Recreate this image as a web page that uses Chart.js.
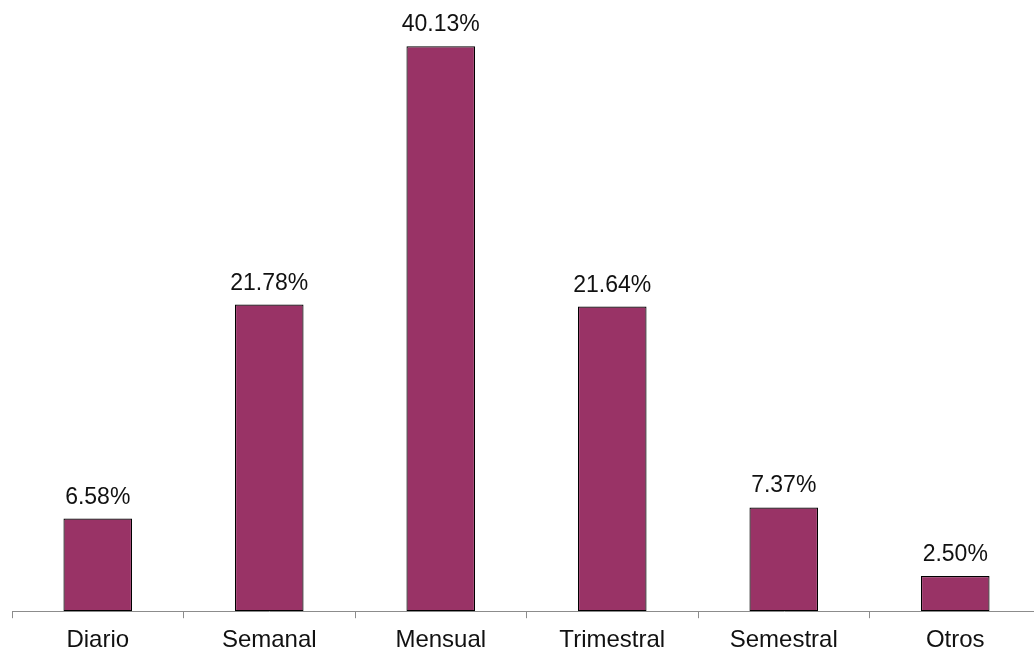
<!DOCTYPE html>
<html>
<head>
<meta charset="utf-8">
<script src="https://cdn.jsdelivr.net/npm/chart.js@4/dist/chart.umd.min.js"></script>
<style>
  html, body { margin: 0; padding: 0; background: #fff; overflow: hidden; }
  #wrap { width: 1041px; height: 663px; position: relative; }
</style>
</head>
<body>
<div id="wrap"><canvas id="chart"></canvas></div>
<script>
const categories = ["Diario", "Semanal", "Mensual", "Trimestral", "Semestral", "Otros"];
const percentages = [6.58, 21.78, 40.13, 21.64, 7.37, 2.50];

const fontFamily = '"Liberation Sans", Arial, sans-serif';

// etiquetas de valor encima de cada barra
const valueLabels = {
  id: "valueLabels",
  afterDatasetsDraw(chart) {
    const ctx = chart.ctx;
    const meta = chart.getDatasetMeta(0);
    ctx.save();
    ctx.font = `23px ${fontFamily}`;
    ctx.fillStyle = "#111";
    ctx.textAlign = "center";
    ctx.textBaseline = "alphabetic";
    meta.data.forEach((bar, i) => {
      ctx.fillText(percentages[i].toFixed(2) + "%", bar.x, bar.y - 15);
    });
    ctx.restore();
  }
};

new Chart(document.querySelector("#chart"), {
  type: "bar",
  data: {
    labels: categories,
    datasets: [{
      data: percentages,
      backgroundColor: "#993366",
      borderColor: "#000",
      borderWidth: 1.2,
      borderSkipped: false,
      categoryPercentage: 1,
      barPercentage: 0.4
    }]
  },
  options: {
    responsive: true,
    maintainAspectRatio: false,
    animation: false,
    layout: { padding: { left: 12, top: 20, right: 0, bottom: 0 } },
    scales: {
      x: {
        grid: {
          display: true,
          drawOnChartArea: false,
          drawTicks: true,
          tickLength: 7,
          color: "#8c8c8c",
          offset: true
        },
        border: { display: true, color: "#8c8c8c", width: 1 },
        ticks: {
          color: "#111",
          padding: 8,
          font: { family: fontFamily, size: 24 }
        }
      },
      y: {
        display: false,
        min: 0,
        max: 42
      }
    },
    plugins: {
      legend: { display: false },
      tooltip: { enabled: false }
    }
  },
  plugins: [valueLabels]
});
</script>
</body>
</html>
